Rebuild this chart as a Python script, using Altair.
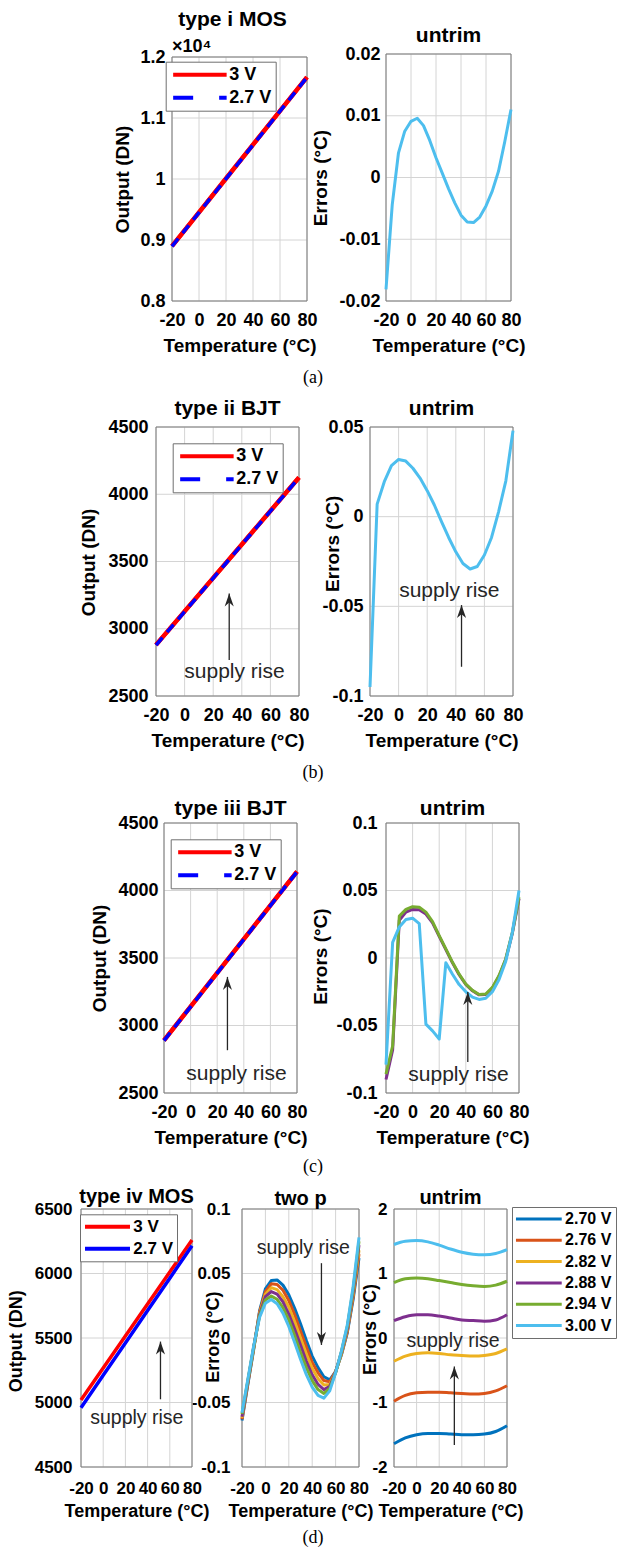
import altair as alt
import pandas as pd

FONT = "Liberation Sans"
SERIF = "Liberation Serif"
INK = "#262626"
GRID = "#d4d4d4"
BOX = "#7a7a7a"
LEGBOX = "#6e6e6e"
RED, BLUE = "#ff0000", "#0000ff"
LBLUE = "#4DBEEE"
W, H = 618, 1552

# ---------------- data ----------------
XTICKS = [-20, 0, 20, 40, 60, 80]
T5 = [-20, -15, -10, -5, 0, 5, 10, 15, 20, 25, 30, 35, 40, 45, 50, 55, 60, 65, 70, 75, 80]
T10 = [-20, -10, 0, 10, 20, 30, 40, 50, 60, 70, 80]
T20 = [-20, 0, 20, 40, 60, 80]
OUT_SERIES = ["3 V", "2.7 V"]
VOLTS = ["2.70 V", "2.76 V", "2.82 V", "2.88 V", "2.94 V", "3.00 V"]
VCOL = ["#0072BD", "#D95319", "#EDB120", "#7E2F8E", "#77AC30", "#4DBEEE"]

# (a) type i MOS
A_OUT_3V = [8900, 9454, 10008, 10562, 11116, 11670]
A_OUT_27V = [8896, 9450, 10004, 10558, 11112, 11666]
A_ERR = [-0.0181, -0.0044, 0.0040, 0.0075, 0.0091, 0.0096, 0.0084, 0.0060, 0.0032, 0.0007,
         -0.0018, -0.0041, -0.0061, -0.0072, -0.0073, -0.0064, -0.0046, -0.0022, 0.0010, 0.0058, 0.0110]

# (b) type ii BJT
B_OUT_3V = [2880, 3129, 3378, 3627, 3876, 4125]
B_OUT_27V = [2878, 3127, 3376, 3625, 3874, 4123]
B_ERR = [-0.095, 0.007, 0.0195, 0.0285, 0.0319, 0.031, 0.027, 0.0215, 0.0145, 0.0065,
         -0.0028, -0.0116, -0.0196, -0.0261, -0.0292, -0.0278, -0.0214, -0.0116, 0.003, 0.020, 0.048]

# (c) type iii BJT
C_OUT_3V = [2890, 3140, 3390, 3640, 3890, 4140]
C_OUT_27V = [2888, 3138, 3388, 3638, 3888, 4138]
C_ERR_288 = [-0.090, -0.068, 0.028, 0.034, 0.036, 0.0358, 0.0325, 0.026, 0.016, 0.0062,
             -0.0036, -0.0124, -0.0196, -0.0243, -0.0273, -0.027, -0.0222, -0.0135, -0.0012, 0.0183, 0.044]
C_ERR_294 = [-0.086, -0.065, 0.031, 0.036, 0.038, 0.0376, 0.034, 0.027, 0.0166, 0.0067,
             -0.0032, -0.012, -0.0193, -0.024, -0.027, -0.0267, -0.0218, -0.013, -0.0007, 0.019, 0.045]
C_ERR_300 = [-0.079, 0.0116, 0.023, 0.0285, 0.0295, 0.0255, -0.049, -0.054, -0.060, -0.0035,
             -0.012, -0.0197, -0.025, -0.029, -0.0307, -0.0298, -0.025, -0.016, -0.0025, 0.019, 0.050]
C_ERR_NAMES = ["2.88 V", "2.94 V", "3.00 V"]
C_ERR_COLS = ["#7E2F8E", "#77AC30", "#4DBEEE"]

# (d) type iv MOS
D_OUT_3V = [5020, 5268, 5516, 5764, 6012, 6260]
D_OUT_27V = [4960, 5211, 5462, 5713, 5964, 6215]
D_TWOP = [
    [-0.064, -0.036, -0.009, 0.021, 0.038, 0.0445, 0.045, 0.041, 0.0335, 0.023, 0.011,
     -0.002, -0.014, -0.023, -0.030, -0.0325, -0.026, -0.013, 0.004, 0.030, 0.062],
    [-0.063, -0.035, -0.008, 0.020, 0.036, 0.042, 0.0415, 0.037, 0.029, 0.018, 0.0055,
     -0.007, -0.019, -0.027, -0.033, -0.034, -0.026, -0.0125, 0.005, 0.032, 0.065],
    [-0.062, -0.034, -0.008, 0.019, 0.034, 0.039, 0.0375, 0.032, 0.024, 0.0125, 0.000,
     -0.0125, -0.0235, -0.0315, -0.0365, -0.036, -0.0265, -0.012, 0.0065, 0.034, 0.068],
    [-0.061, -0.034, -0.007, 0.018, 0.032, 0.036, 0.034, 0.028, 0.0185, 0.007, -0.0055,
     -0.018, -0.0285, -0.036, -0.040, -0.0375, -0.0265, -0.011, 0.0075, 0.036, 0.072],
    [-0.059, -0.033, -0.007, 0.017, 0.0295, 0.0325, 0.030, 0.0235, 0.014, 0.002, -0.011,
     -0.023, -0.033, -0.040, -0.043, -0.039, -0.027, -0.0105, 0.009, 0.038, 0.075],
    [-0.058, -0.032, -0.006, 0.016, 0.027, 0.0298, 0.0265, 0.0193, 0.0089, -0.0035, -0.0165,
     -0.0284, -0.038, -0.0444, -0.0466, -0.041, -0.027, -0.010, 0.010, 0.040, 0.078],
]
D_UNTRIM = [
    [-1.64, -1.55, -1.50, -1.48, -1.48, -1.49, -1.50, -1.50, -1.49, -1.45, -1.36],
    [-0.98, -0.89, -0.85, -0.84, -0.84, -0.85, -0.86, -0.87, -0.86, -0.82, -0.74],
    [-0.36, -0.28, -0.24, -0.23, -0.24, -0.26, -0.27, -0.28, -0.27, -0.24, -0.17],
    [0.27, 0.33, 0.36, 0.36, 0.34, 0.31, 0.28, 0.27, 0.26, 0.28, 0.36],
    [0.86, 0.92, 0.93, 0.92, 0.89, 0.86, 0.83, 0.81, 0.80, 0.82, 0.88],
    [1.45, 1.50, 1.51, 1.49, 1.44, 1.38, 1.33, 1.30, 1.29, 1.31, 1.37],
]

# annotations: (text T, text v), (arrow T, tail v, tip v)
B_L_TXT, B_L_ARR = (34.9, 2680), (31.2, 2767, 3263)
B_R_TXT, B_R_ARR = (35.5, -0.0414), (44.0, -0.0837, -0.0493)
C_L_TXT, C_L_ARR = (34.5, 2644), (27.7, 2817, 3360)
C_R_TXT, C_R_ARR = (34.5, -0.0869), (41.5, -0.077, -0.0251)
D_L_TXT, D_L_ARR = (30.3, 4883), (51.6, 5025, 5472)
D_M_TXT, D_M_ARR = (32.4, 0.0697), (47.9, 0.058, -0.0054)
D_R_TXT, D_R_ARR = (32.2, -0.05), (33.4, -1.66, -0.44)
A_EXP = (-20, 12000, "×10⁴")

CAPTIONS = ["(a)", "(b)", "(c)", "(d)"]

# ---------------- helpers ----------------
LABEL_EXPR = "'' + datum.value"
UP = "M0,0L0.7,2L0,1.4L-0.7,2Z"
DOWN = "M0,0L0.7,-2L0,-1.4L-0.7,-2Z"


def make_panel(x0, x1, y0, y1, ydom, yticks, fs, tfs, ylpad, ytx, yty, ytitle, xlpad, xty,
               yexpr=LABEL_EXPR):
    xsc = alt.Scale(domain=[-20, 80], range=[x0, x1], nice=False, zero=False)
    ysc = alt.Scale(domain=ydom, range=[y1, y0], nice=False, zero=False)
    common = dict(labelFont=FONT, labelFontSize=fs, labelFontWeight="bold", labelColor="black",
                  labelFlush=False, labelOverlap=False,
                  titleFont=FONT, titleFontSize=tfs, titleFontWeight="bold", titleColor="black",
                  titleAlign="center", titleBaseline="middle",
                  domain=False, ticks=False, tickSize=0, grid=False)
    xax = alt.Axis(orient="bottom", offset=y1 - H, values=XTICKS, labelExpr=LABEL_EXPR,
                   title="Temperature (°C)", labelBaseline="middle", labelPadding=xlpad,
                   titleX=(x0 + x1) / 2, titleY=xty, **common)
    yax = alt.Axis(orient="left", offset=-x0, values=yticks, labelExpr=yexpr, title=ytitle,
                   labelPadding=ylpad, titleAngle=270, titleX=ytx, titleY=y0 + yty, **common)
    return dict(xsc=xsc, ysc=ysc, xax=xax, yax=yax, lo=ydom[0], hi=ydom[1], x0=x0, y0=y0,
                yticks=yticks)


def XY(p):
    return dict(x=alt.X("T:Q", scale=p["xsc"], axis=p["xax"]),
                y=alt.Y("v:Q", scale=p["ysc"], axis=p["yax"]))


def frame(p):
    """grid lines at the tick values plus the surrounding box"""
    n = len(p["yticks"])
    vgrid = alt.Chart(pd.DataFrame({"T": XTICKS, "v": [p["lo"]] * 6, "v2": [p["hi"]] * 6})).mark_rule(
        color=GRID, strokeWidth=1).encode(**XY(p), y2="v2:Q")
    hgrid = alt.Chart(pd.DataFrame({"T": [-20] * n, "T2": [80] * n, "v": p["yticks"]})).mark_rule(
        color=GRID, strokeWidth=1).encode(**XY(p), x2="T2:Q")
    df = pd.DataFrame({"T": [-20], "T2": [80], "v": [p["lo"]], "v2": [p["hi"]]})
    rect = alt.Chart(df).mark_rect(fillOpacity=0, stroke=BOX, strokeWidth=1).encode(
        **XY(p), x2="T2:Q", y2="v2:Q")
    return [vgrid, hgrid, rect]


def title(p, text, off, fs=21, dx=0):
    df = pd.DataFrame({"T": [30], "v": [p["hi"]], "t": [text]})
    return alt.Chart(df).mark_text(font=FONT, fontSize=fs, fontWeight="bold", color="black",
                                   align="center", baseline="alphabetic", dy=-off, dx=dx).encode(
        **XY(p), text="t:N")


def legend(p, rx, ry, fs, half, ssize, sw, soff, loff, rpad):
    return alt.Legend(title=None, orient="none", legendX=p["x0"] + rx, legendY=p["y0"] + ry,
                      symbolType=f"M-{half},0H{half}", symbolSize=ssize, symbolStrokeWidth=sw,
                      symbolOffset=soff, labelOffset=loff, rowPadding=rpad, padding=4,
                      labelFont=FONT, labelFontSize=fs, labelFontWeight="bold", labelColor="black",
                      strokeColor=LEGBOX, fillColor="white")


def lines(p, series, cscale=None, leg=None, width=3, dashes=None, color=None, interp="linear",
          widths=None):
    out = []
    for i, (T, vals, name) in enumerate(series):
        df = pd.DataFrame({"T": T, "v": vals, "s": name})
        kw = dict(strokeWidth=widths[i] if widths else width, strokeJoin="round", interpolate=interp)
        if dashes is not None and dashes[i] is not None:
            kw["strokeDash"] = dashes[i]
        if color is not None:
            kw["color"] = color
        enc = XY(p)
        if cscale is not None:
            enc["color"] = alt.Color("s:N", scale=cscale, legend=leg)
        out.append(alt.Chart(df).mark_line(**kw).encode(**enc))
    return out


OUT_SCALE = alt.Scale(domain=OUT_SERIES, range=[RED, BLUE])
DASH_SCALE = alt.Scale(domain=OUT_SERIES, range=[[1, 0], [20, 26]])


def out_lines(p, T, v3, v27, leg, dashed, width):
    layers = []
    if dashed:
        df = pd.DataFrame({"T": T, "v": v3, "s": "3 V"})
        layers.append(alt.Chart(df).mark_line(strokeWidth=width, strokeJoin="round").encode(
            **XY(p),
            color=alt.Color("s:N", scale=OUT_SCALE, legend=leg),
            strokeDash=alt.StrokeDash("s:N", scale=DASH_SCALE, legend=leg)))
        widths = [width + 0.5, width - 0.5]
    else:
        widths = [width, width]
    layers += lines(p, [(T, v3, "3 V"), (T, v27, "2.7 V")], cscale=OUT_SCALE, leg=leg,
                    widths=widths, dashes=[None, [10, 7] if dashed else None])
    return layers


def supply(p, txt, arr, fs, shape):
    t = alt.Chart(pd.DataFrame({"T": [txt[0]], "v": [txt[1]], "t": ["supply rise"]})).mark_text(
        font=FONT, fontSize=fs, color=INK, align="center", baseline="middle").encode(
        **XY(p), text="t:N")
    r = alt.Chart(pd.DataFrame({"T": [arr[0]], "v": [arr[1]], "v2": [arr[2]]})).mark_rule(
        color=INK, strokeWidth=1.3).encode(**XY(p), y2="v2:Q")
    h = alt.Chart(pd.DataFrame({"T": [arr[0]], "v": [arr[2]]})).mark_point(
        shape=shape, size=169, filled=True, color=INK, opacity=1, strokeWidth=0).encode(**XY(p))
    return [t, r, h]


ERR = "Errors (°C)"
OUT = "Output (DN)"
LEG_ABC = dict(fs=18, half=3.82, ssize=196, sw=4, soff=21.2, loff=20.4, rpad=5)

# ---------------- row (a) ----------------
pa_l = make_panel(172, 307, 57, 301, [8000, 12000], [8000, 9000, 10000, 11000, 12000],
                  18, 19, 7, -50, 122, OUT, 19, 44.5, yexpr="'' + (datum.value / 10000)")
a_l = alt.layer(
    *frame(pa_l),
    *out_lines(pa_l, T20, A_OUT_3V, A_OUT_27V, legend(pa_l, -6.3, 4.7, **LEG_ABC), True, 4),
    alt.Chart(pd.DataFrame({"T": [A_EXP[0]], "v": [A_EXP[1]], "t": [A_EXP[2]]})).mark_text(
        font=FONT, fontSize=18, fontWeight="bold", color="black", align="left",
        baseline="alphabetic", dy=-5).encode(**XY(pa_l), text="t:N"),
    title(pa_l, "type i MOS", 30.6, dx=-7),
)

pa_r = make_panel(386, 511, 54, 301, [-0.02, 0.02], [-0.02, -0.01, 0, 0.01, 0.02],
                  18, 19, 6, -66, 123.5, ERR, 19, 44.5)
a_r = alt.layer(
    *frame(pa_r),
    *lines(pa_r, [(T5, A_ERR, "3.00 V")], color=LBLUE, width=3),
    title(pa_r, "untrim", 12.3),
)

# ---------------- row (b) ----------------
pb_l = make_panel(156, 299, 427, 696, [2500, 4500], [2500, 3000, 3500, 4000, 4500],
                  18, 19, 8, -67.5, 135, OUT, 19, 44.5)
b_l = alt.layer(
    *frame(pb_l),
    *out_lines(pb_l, T20, B_OUT_3V, B_OUT_27V, legend(pb_l, 16.7, 16.3, **LEG_ABC), True, 4),
    *supply(pb_l, B_L_TXT, B_L_ARR, 21, UP),
    title(pb_l, "type ii BJT", 12),
)

pb_r = make_panel(370, 513, 427, 696, [-0.1, 0.05], [-0.1, -0.05, 0, 0.05],
                  18, 19, 7, -37.5, 116.3, ERR, 19, 44.5)
b_r = alt.layer(
    *frame(pb_r),
    *lines(pb_r, [(T5, B_ERR, "3.00 V")], color=LBLUE, width=3),
    *supply(pb_r, B_R_TXT, B_R_ARR, 21, UP),
    title(pb_r, "untrim", 12),
)

# ---------------- row (c) ----------------
pc_l = make_panel(164, 297, 823, 1093, [2500, 4500], [2500, 3000, 3500, 4000, 4500],
                  18, 19, 6, -65, 135, OUT, 19, 44.5)
c_l = alt.layer(
    *frame(pc_l),
    *out_lines(pc_l, T20, C_OUT_3V, C_OUT_27V, legend(pc_l, 6.7, 16.3, **LEG_ABC), True, 4),
    *supply(pc_l, C_L_TXT, C_L_ARR, 21, UP),
    title(pc_l, "type iii BJT", 8),
)

pc_r = make_panel(386, 519, 823, 1093, [-0.1, 0.1], [-0.1, -0.05, 0, 0.05, 0.1],
                  18, 19, 9, -66, 133, ERR, 19, 44.5)
c_r = alt.layer(
    *frame(pc_r),
    *lines(pc_r, [(T5, C_ERR_288, "2.88 V"), (T5, C_ERR_294, "2.94 V"), (T5, C_ERR_300, "3.00 V")],
           cscale=alt.Scale(domain=C_ERR_NAMES, range=C_ERR_COLS), leg=None, width=3),
    *supply(pc_r, C_R_TXT, C_R_ARR, 21, UP),
    title(pc_r, "untrim", 8),
)

# ---------------- row (d) ----------------
pd_l = make_panel(81, 192, 1209, 1467, [4500, 6500], [4500, 5000, 5500, 6000, 6500],
                  17, 18, 9, -64.3, 131.8, OUT, 21, 44.7)
d_l = alt.layer(
    *frame(pd_l),
    *out_lines(pd_l, T20, D_OUT_3V, D_OUT_27V,
               legend(pd_l, -1, 5.3, 17, 3.46, 169, 4, 15, 17.3, 4), False, 3.5),
    *supply(pd_l, D_L_TXT, D_L_ARR, 19.5, UP),
    title(pd_l, "type iv MOS", 6.3, fs=20),
)

V_SCALE = alt.Scale(domain=VOLTS, range=VCOL)
pd_m = make_panel(242, 359, 1209, 1467, [-0.1, 0.1], [-0.1, -0.05, 0, 0.05, 0.1],
                  17, 18, 12, -28.7, 127.7, ERR, 21, 44.7)
d_m = alt.layer(
    *frame(pd_m),
    *lines(pd_m, [(T5, D_TWOP[i], VOLTS[i]) for i in range(6)], cscale=V_SCALE, leg=None, width=3),
    *supply(pd_m, D_M_TXT, D_M_ARR, 19.5, DOWN),
    title(pd_m, "two p", 4, fs=20),
)

pd_r = make_panel(394, 507, 1209, 1467, [-2, 2], [-2, -1, 0, 1, 2],
                  17, 18, 7, -23.5, 120, ERR, 21, 44.7)
d_r = alt.layer(
    *frame(pd_r),
    *lines(pd_r, [(T10, D_UNTRIM[i], VOLTS[i]) for i in range(6)], cscale=V_SCALE,
           leg=legend(pd_r, 118, -2, 16, 3.52, 169, 3, 14.85, 18.2, 5.3), width=3,
           interp="monotone"),
    *supply(pd_r, D_R_TXT, D_R_ARR, 19.5, UP),
    title(pd_r, "untrim", 5, fs=20),
)

# ---------------- captions ----------------
CAP_Y = [378, 773, 1167, 1538]
caps = [
    alt.Chart(pd.DataFrame({"cap": [c]})).mark_text(
        font=SERIF, fontSize=18, color="black", align="center", baseline="middle").encode(
        text="cap:N", x=alt.value(313), y=alt.value(y))
    for c, y in zip(CAPTIONS, CAP_Y)
]

chart = alt.layer(a_l, a_r, b_l, b_r, c_l, c_r, d_l, d_m, d_r, *caps).resolve_scale(
    x="independent", y="independent", color="independent", strokeDash="independent"
).resolve_axis(x="independent", y="independent").resolve_legend(
    color="independent", strokeDash="independent"
).properties(width=W, height=H, padding=0, background="white").configure_view(
    stroke="transparent")

chart.save("out.html", embed_options={"renderer": "svg", "actions": False})
